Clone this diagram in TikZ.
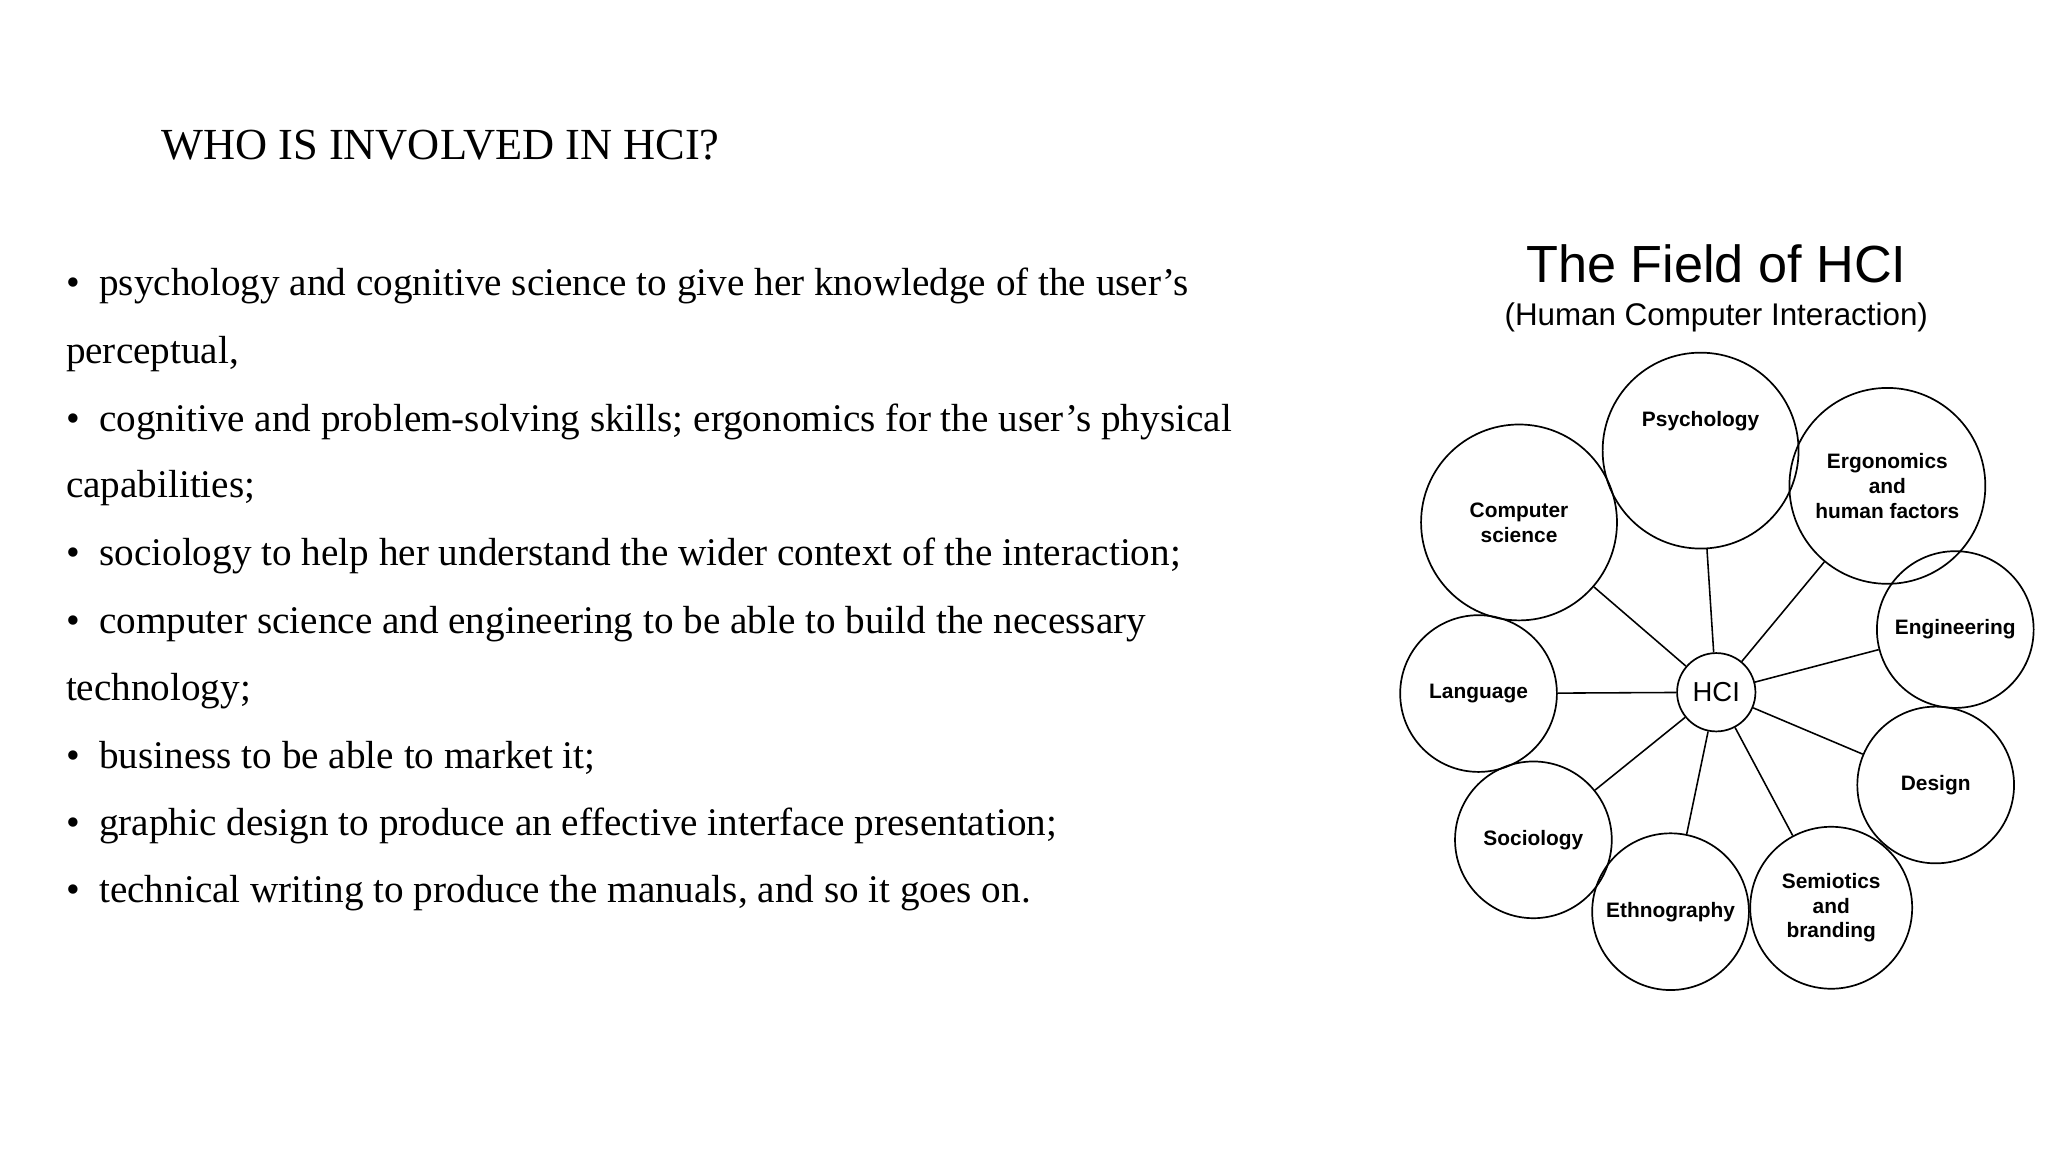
\documentclass[tikz,border=0pt]{standalone}
\usepackage{fontspec}
\setmainfont{Liberation Serif}
\newfontfamily\sansf{Liberation Sans}
\begin{document}
\begin{tikzpicture}[x=1pt,y=-1pt,
  bub/.style={draw,circle,line width=1.3pt,inner sep=0pt,align=center,font=\sansf\bfseries\fontsize{16}{19}\selectfont},
  spoke/.style={line width=1.2pt},
  bl/.style={anchor=base west,font=\fontsize{30}{36}\selectfont}]
\useasboundingbox (0,0) rectangle (1568,882);
\node[anchor=base west,font=\fontsize{34}{40}\selectfont] (title) at (120,122) {WHO IS INVOLVED IN HCI?};
\node[bl] (l1) at (47,226) {•\ \ psychology and cognitive science to give her knowledge of the user’s};
\node[bl] (l2) at (47,278) {perceptual,};
\node[bl] (l3) at (47,330) {•\ \ cognitive and problem-solving skills; ergonomics for the user’s physical};
\node[bl] (l4) at (47,381) {capabilities;};
\node[bl] (l5) at (47,433) {•\ \ sociology to help her understand the wider context of the interaction;};
\node[bl] (l6) at (47,485) {•\ \ computer science and engineering to be able to build the necessary};
\node[bl] (l7) at (47,536) {technology;};
\node[bl] (l8) at (47,588) {•\ \ business to be able to market it;};
\node[bl] (l9) at (47,640) {•\ \ graphic design to produce an effective interface presentation;};
\node[bl] (l10) at (47,691) {•\ \ technical writing to produce the manuals, and so it goes on.};
\node[font=\sansf\fontsize{40}{44}\selectfont] (ft) at (1314,202) {The Field of HCI};
\node[font=\sansf\fontsize{24}{28}\selectfont] (fs) at (1314,243) {(Human Computer Interaction)};
\node[bub,minimum size=60,font=\sansf\fontsize{21}{24}\selectfont] (hci) at (1314,530) {HCI};
\node[bub,minimum size=150] (psy) at (1302,345) {Psychology\\[30pt]};
\node[bub,minimum size=150] (erg) at (1445,372) {Ergonomics\\and\\human factors};
\node[bub,minimum size=150] (cs) at (1163,400) {Computer\\science};
\node[bub,minimum size=120] (eng) at (1497,482) {Engineering};
\node[bub,minimum size=120] (lan) at (1132,531) {Language};
\node[bub,minimum size=120] (des) at (1482,601) {Design};
\node[bub,minimum size=120] (soc) at (1174,643) {Sociology};
\node[bub,minimum size=120] (eth) at (1279,698) {Ethnography};
\node[bub,minimum size=124] (sem) at (1402,695) {Semiotics\\and\\branding};
\foreach \n in {psy,erg,cs,eng,lan,des,soc,eth,sem}
  \draw[spoke] (hci) -- (\n);
\end{tikzpicture}
\end{document}
